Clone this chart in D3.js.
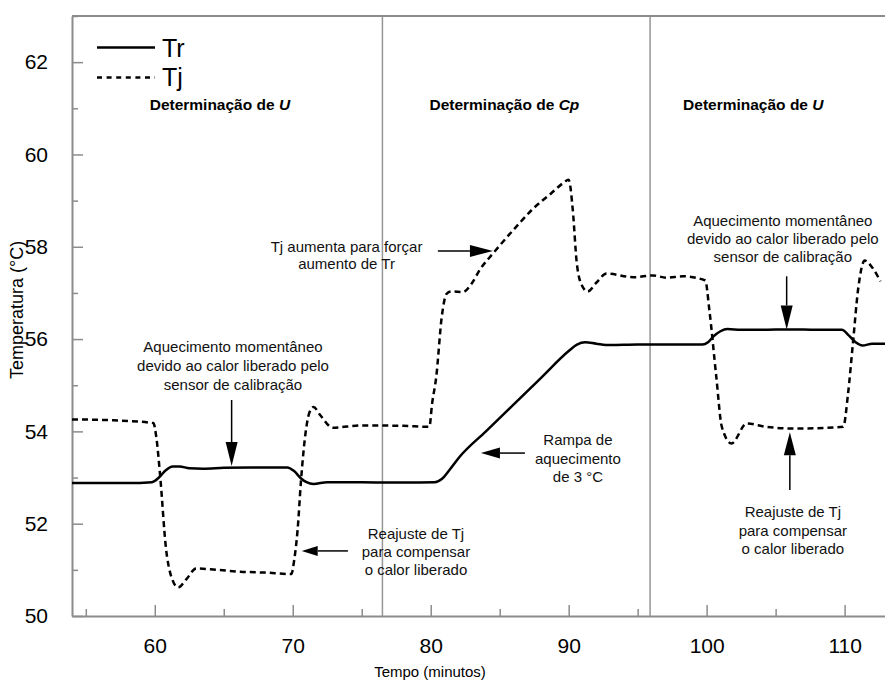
<!DOCTYPE html>
<html>
<head>
<meta charset="utf-8">
<script src="https://cdn.jsdelivr.net/npm/d3@7"></script>
<style>
  html, body { margin: 0; padding: 0; background: #fff; }
  svg { display: block; font-family: "Liberation Sans", Arial, Helvetica, sans-serif; }
</style>
</head>
<body>
<svg id="chart" width="885" height="681"></svg>
<script>
// Reactor temperature (Tr) and jacket temperature (Tj) over time, minutes
const trTime = [54, 58, 59.8, 60.3, 60.8, 61.3, 61.8, 62.5, 63.5, 65, 67, 69.6, 70.1, 70.6, 71.0, 71.5, 72.5, 75, 78, 80.3, 80.8, 81.4, 82.1, 84, 86, 88, 90, 90.6, 91.2, 92, 93, 95, 97, 99.7, 100.1, 100.5, 101.0, 101.5, 102.5, 104, 106, 108, 109.8, 110.3, 110.8, 111.3, 112, 113];
const trTemp = [52.88, 52.88, 52.9, 53.0, 53.16, 53.24, 53.24, 53.2, 53.19, 53.21, 53.22, 53.22, 53.14, 52.98, 52.9, 52.86, 52.9, 52.9, 52.89, 52.9, 52.97, 53.18, 53.45, 54.0, 54.58, 55.16, 55.74, 55.88, 55.93, 55.9, 55.87, 55.88, 55.88, 55.88, 55.93, 56.06, 56.17, 56.22, 56.2, 56.2, 56.21, 56.2, 56.2, 56.08, 55.93, 55.86, 55.9, 55.9];

const tjTime = [54, 57, 59.9, 60.1, 60.4, 60.8, 61.2, 61.7, 62.3, 63.0, 64.5, 66.2, 68, 69.9, 70.1, 70.35, 70.6, 70.9, 71.2, 71.5, 72.0, 72.9, 75, 78, 79.9, 80.1, 80.4, 80.8, 81.15, 81.5, 82.35, 82.96, 83.6, 84.5, 86.4, 87.4, 88.7, 89.6, 90.0, 90.3, 90.57, 90.9, 91.37, 92.0, 92.75, 94.7, 96.1, 97.1, 98.3, 99.9, 100.2, 100.7, 101.1, 101.8, 102.9, 104.3, 106.3, 109.9, 110.25, 110.6, 111.0, 111.46, 112.0, 112.6];
const tjTemp = [54.26, 54.24, 54.18, 53.9, 53.0, 51.5, 50.85, 50.62, 50.8, 51.03, 51.0, 50.96, 50.94, 50.91, 51.2, 51.86, 52.94, 53.9, 54.4, 54.53, 54.35, 54.08, 54.13, 54.12, 54.1, 54.6, 55.18, 56.48, 56.98, 57.03, 57.02, 57.2, 57.52, 57.85, 58.5, 58.82, 59.15, 59.38, 59.45, 58.79, 57.7, 57.2, 57.03, 57.22, 57.42, 57.34, 57.38, 57.33, 57.36, 57.27, 56.62, 55.18, 54.1, 53.74, 54.17, 54.1, 54.06, 54.1, 54.82, 55.9, 57.13, 57.7, 57.55, 57.25];

// Axis ticks
const xMajorTicks = [60, 70, 80, 90, 100, 110];
const xMinorTicks = [55, 65, 75, 85, 95, 105];
const yMajorTicks = [50, 52, 54, 56, 58, 60, 62];
const yMinorTicks = [51, 53, 55, 57, 59, 61, 63];

// Phase boundaries (minutes) and phase titles
const phaseBounds = [76.5, 95.9];
const phaseTitles = [
  { x: 64.72, parts: [{ t: "Determinação de ", it: false }, { t: "U", it: true }] },
  { x: 85.34, parts: [{ t: "Determinação de ", it: false }, { t: "Cp", it: true }] },
  { x: 103.38, parts: [{ t: "Determinação de ", it: false }, { t: "U", it: true }] }
];

// Explanatory notes: text blocks (first baseline in °C) and arrows (tail -> tip)
const notes = [
  { x: 65.67, y: 55.71, lh: 19, lines: ["Aquecimento momentâneo", "devido ao calor liberado pelo", "sensor de calibração"] },
  { x: 105.52, y: 58.46, lh: 18, lines: ["Aquecimento momentâneo", "devido ao calor liberado pelo", "sensor de calibração"] },
  { x: 73.9, y: 57.89, lh: 17.5, lines: ["Tj aumenta para forçar", "aumento de Tr"] },
  { x: 90.67, y: 53.7, lh: 18.5, lines: ["Rampa de", "aquecimento", "de 3 °C"] },
  { x: 78.93, y: 51.67, lh: 18, lines: ["Reajuste de Tj", "para compensar", "o calor liberado"] },
  { x: 106.25, y: 52.14, lh: 18.5, lines: ["Reajuste de Tj", "para compensar", "o calor liberado"] }
];
const arrows = [
  { x1: 65.57, y1: 54.68, x2: 65.57, y2: 53.25, len: 24, w: 12 },
  { x1: 74.0, y1: 51.41, x2: 70.65, y2: 51.41, len: 16, w: 10 },
  { x1: 80.52, y1: 57.91, x2: 84.51, y2: 57.91, len: 23, w: 12 },
  { x1: 86.83, y1: 53.53, x2: 83.64, y2: 53.53, len: 19, w: 11 },
  { x1: 105.8, y1: 57.36, x2: 105.8, y2: 56.21, len: 24, w: 12 },
  { x1: 106.03, y1: 52.73, x2: 106.03, y2: 53.98, len: 23, w: 12 }
];

const svg = d3.select("#chart");
const axisColor = "#8c8c8c";
const plotLeft = 72, plotTop = 16, plotBottom = 616, plotRight = 886;

const x = d3.scaleLinear().domain([54, 113]).range([plotLeft, plotRight]);
const y = d3.scaleLinear().domain([50, 63]).range([plotBottom, plotTop]);

// Phase separators
svg.append("g").selectAll("line").data(phaseBounds).join("line")
  .attr("x1", d => x(d)).attr("x2", d => x(d))
  .attr("y1", plotTop).attr("y2", plotBottom)
  .attr("stroke", "#969696").attr("stroke-width", 1.5);

// Top frame edge
svg.append("line")
  .attr("x1", plotLeft).attr("x2", plotRight).attr("y1", plotTop).attr("y2", plotTop)
  .attr("stroke", axisColor).attr("stroke-width", 2);

// X axis (ticks point inward)
const gx = svg.append("g").attr("transform", `translate(0,${plotBottom})`);
gx.call(d3.axisBottom(x).tickValues(xMajorTicks).tickSizeInner(-11).tickSizeOuter(0).tickPadding(22).tickFormat(d3.format("d")));
const gxm = svg.append("g").attr("transform", `translate(0,${plotBottom})`);
gxm.call(d3.axisBottom(x).tickValues(xMinorTicks).tickSizeInner(-7).tickSizeOuter(0).tickFormat(""));
gxm.select(".domain").remove();

// Y axis
const gy = svg.append("g").attr("transform", `translate(${plotLeft},0)`);
gy.call(d3.axisLeft(y).tickValues(yMajorTicks).tickSizeInner(-11).tickSizeOuter(0).tickPadding(24).tickFormat(d3.format("d")));
const gym = svg.append("g").attr("transform", `translate(${plotLeft},0)`);
gym.call(d3.axisLeft(y).tickValues(yMinorTicks).tickSizeInner(-6).tickSizeOuter(0).tickFormat(""));
gym.select(".domain").remove();

svg.selectAll(".domain").attr("stroke", axisColor).attr("stroke-width", 2);
svg.selectAll(".tick line").attr("stroke", axisColor).attr("stroke-width", 1.5);
svg.selectAll(".tick text")
  .attr("fill", "#000")
  .style("font-family", "'Liberation Sans', Arial, sans-serif")
  .style("font-size", "21px");

// Axis titles
svg.append("text")
  .attr("x", 430).attr("y", 677)
  .attr("text-anchor", "middle")
  .style("font-size", "15px")
  .text("Tempo (minutos)");
svg.append("text")
  .attr("transform", "translate(23,310) rotate(-90)")
  .attr("text-anchor", "middle")
  .style("font-size", "18px")
  .text("Temperatura (°C)");

// Curves
const line = d3.line().x(d => x(d[0])).y(d => y(d[1])).curve(d3.curveMonotoneX);
const trData = trTime.map((t, i) => [t, trTemp[i]]);
const tjData = tjTime.map((t, i) => [t, tjTemp[i]]);

svg.append("path").datum(tjData)
  .attr("d", line).attr("fill", "none")
  .attr("stroke", "#000").attr("stroke-width", 2.5)
  .attr("stroke-dasharray", "6,4");
svg.append("path").datum(trData)
  .attr("d", line).attr("fill", "none")
  .attr("stroke", "#000").attr("stroke-width", 2.5);

// Phase titles
phaseTitles.forEach(p => {
  const t = svg.append("text")
    .attr("x", x(p.x)).attr("y", y(60.97))
    .attr("text-anchor", "middle")
    .style("font-size", "15.5px").style("font-weight", "bold");
  p.parts.forEach(s => t.append("tspan").style("font-style", s.it ? "italic" : "normal").text(s.t));
});

// Notes
notes.forEach(n => {
  const t = svg.append("text")
    .attr("text-anchor", "middle")
    .style("font-size", "15px").attr("fill", "#111");
  n.lines.forEach((s, i) => t.append("tspan")
    .attr("x", x(n.x)).attr("y", y(n.y) + i * n.lh).text(s));
});

// Arrows: shaft plus a filled narrow head
arrows.forEach(a => {
  const X1 = x(a.x1), Y1 = y(a.y1), X2 = x(a.x2), Y2 = y(a.y2);
  const dx = X2 - X1, dy = Y2 - Y1, L = Math.hypot(dx, dy);
  const ux = dx / L, uy = dy / L;
  const bx = X2 - ux * a.len, by = Y2 - uy * a.len;
  svg.append("line")
    .attr("x1", X1).attr("y1", Y1).attr("x2", bx).attr("y2", by)
    .attr("stroke", "#000").attr("stroke-width", 1.5);
  const px = -uy * a.w / 2, py = ux * a.w / 2;
  svg.append("path")
    .attr("d", `M${X2},${Y2}L${bx + px},${by + py}L${bx - px},${by - py}Z`)
    .attr("fill", "#000");
});

// Legend
const legend = svg.append("g");
const legendItems = [
  { label: "Tr", dash: null, yy: 47.5, ty: 56.5 },
  { label: "Tj", dash: "5,4.6", yy: 77.5, ty: 86 }
];
legendItems.forEach(l => {
  legend.append("line")
    .attr("x1", 97).attr("x2", 155).attr("y1", l.yy).attr("y2", l.yy)
    .attr("stroke", "#000").attr("stroke-width", 2.5)
    .attr("stroke-dasharray", l.dash);
  legend.append("text")
    .attr("x", 162).attr("y", l.ty)
    .style("font-size", "25px")
    .text(l.label);
});
</script>
</body>
</html>
